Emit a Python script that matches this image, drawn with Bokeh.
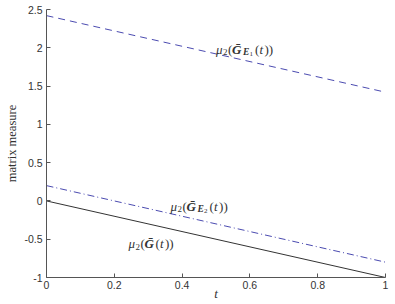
from bokeh.plotting import figure
from bokeh.models import Range1d, Label, FixedTicker
from bokeh.embed import file_html
from bokeh.resources import INLINE

t = [0.0, 1.0]
mu_GE1 = [2.42, 1.42]
mu_GE2 = [0.2, -0.8]
mu_G = [0.0, -1.0]
xticks = [0, 0.2, 0.4, 0.6, 0.8, 1]
yticks = [-1, -0.5, 0, 0.5, 1, 1.5, 2, 2.5]

p = figure(width=395, height=304, output_backend="svg", toolbar_location=None,
           x_range=Range1d(0, 1), y_range=Range1d(-1, 2.5),
           min_border_left=46, min_border_right=10, min_border_top=9, min_border_bottom=27)
p.outline_line_color = None
p.grid.visible = False
p.background_fill_color = "white"
p.border_fill_color = "white"

blue = "#4b4bb0"
p.line(t, mu_GE1, line_color=blue, line_width=1, line_dash="7 5")
p.line(t, mu_GE2, line_color=blue, line_width=1, line_dash="7 3 1 3")
p.line(t, mu_G, line_color="#333333", line_width=1)

col = "#333333"
serif = "Liberation Serif"

for ax in (p.xaxis[0], p.yaxis[0]):
    ax.axis_line_color = "#555555"
    ax.major_tick_line_color = "#555555"
    ax.major_tick_in = 4
    ax.major_tick_out = 0
    ax.minor_tick_line_color = None
    ax.major_label_text_font = "Liberation Sans"
    ax.major_label_text_font_size = "10.5px"
    ax.major_label_text_color = col
    ax.axis_label_text_font = serif
    ax.axis_label_text_color = col

p.xaxis.ticker = FixedTicker(ticks=xticks)
p.yaxis.ticker = FixedTicker(ticks=yticks)
p.xaxis.major_label_overrides = {0: "0", 1: "1"}
p.yaxis.major_label_overrides = {-1: "-1", 0: "0", 1: "1", 2: "2", -0.5: "-0.5"}
p.xaxis.major_label_standoff = 3
p.yaxis.major_label_standoff = 4

p.xaxis.axis_label = "t"
p.xaxis.axis_label_text_font_style = "italic"
p.xaxis.axis_label_text_font_size = "13px"
p.xaxis.axis_label_standoff = -6
p.yaxis.axis_label = "matrix measure"
p.yaxis.axis_label_text_font_style = "normal"
p.yaxis.axis_label_text_font_size = "12.5px"
p.yaxis.axis_label_standoff = 2


def piece(x, y, dx, dy, text, size, style="normal"):
    p.add_layout(Label(x=x, y=y, x_offset=dx, y_offset=dy, text=text, text_font=serif,
                       text_font_size=size, text_font_style=style, text_color=col,
                       text_baseline="alphabetic"))


def math_label(x, y, sub):
    piece(x, y, 0, 0, "μ", "13px", "italic")
    piece(x, y, 7, -3, "2", "9px")
    piece(x, y, 12, 0, "(", "13px")
    piece(x, y, 16, 0, "Ḡ", "13px", "bold italic")
    off = 27
    if sub:
        piece(x, y, off, -3, "E", "9.5px", "bold italic")
        piece(x, y, off + 6.5, -5, sub, "7px")
        off += 12
    piece(x, y, off, 0, "(", "13px")
    piece(x, y, off + 4.5, 0, "t", "13px", "italic")
    piece(x, y, off + 9.5, 0, "))", "13px")


math_label(0.5, 1.98, "1")
math_label(0.366, -0.07, "2")
math_label(0.242, -0.56, None)

open("out.html", "w").write(file_html(p, INLINE))
